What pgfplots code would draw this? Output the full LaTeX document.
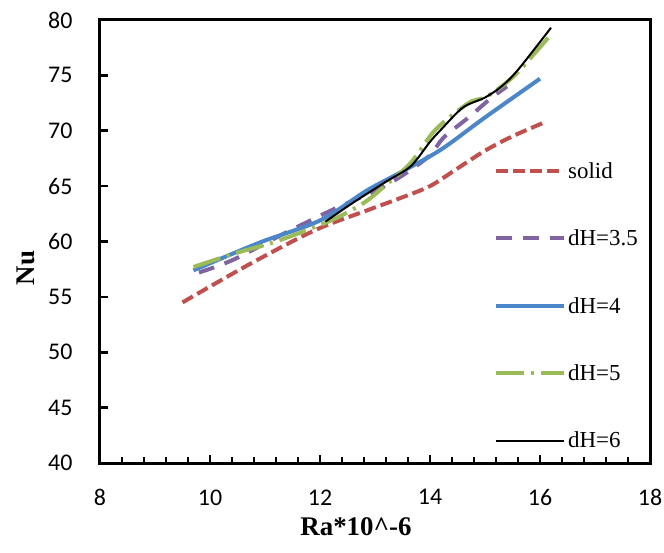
\documentclass[border=0pt]{standalone}
\usepackage{fontspec}
\setmainfont{Liberation Serif}
\newfontfamily\carlito{Carlito}
\usepackage{pgfplots}
\pgfplotsset{compat=1.18}

\definecolor{cSolid}{HTML}{C0504D}
\definecolor{cDHa}{HTML}{8064A2}
\definecolor{cDHb}{HTML}{4A86C8}
\definecolor{cDHc}{HTML}{9BBB59}

\begin{document}
\begin{tikzpicture}
\begin{axis}[
  scale only axis,
  width=550bp, height=443bp,
  xmin=8, xmax=18, ymin=40, ymax=80,
  xtick={8,10,...,18}, ytick={40,45,...,80},
  minor x tick num=4,
  xtick pos=bottom, ytick pos=left,
  tick align=inside,
  major tick length=8bp, minor tick length=6bp,
  major tick style={black, line width=2.5bp},
  minor tick style={black, line width=2bp},
  separate axis lines,
  every outer x axis line/.append style={line width=3bp, line cap=rect},
  every outer y axis line/.append style={line width=3bp, line cap=rect},
  /pgf/number format/assume math mode=true,
  ticklabel style={font=\carlito\fontsize{24}{28}\selectfont},
  xticklabel style={yshift=-23bp},
  yticklabel style={xshift=-24bp},
  xlabel={\textbf{Ra*10\^{}-6}},
  ylabel={\textbf{Nu}},
  label style={font=\fontsize{27}{32}\selectfont},
  xlabel style={at={(axis description cs:0.4655,-0.1445)}, anchor=center},
  ylabel style={at={(axis description cs:-0.1345,0.44)}, anchor=center},
  legend style={draw=none, fill=none, at={(rel axis cs:0.711,0.688)}, anchor=north west,
    font=\fontsize{23}{27}\selectfont, row sep=46bp},
  legend cell align=left,
  legend image code/.code={\draw[#1] (0bp,0bp) -- (68bp,0bp);},
  clip=false,
]
% solid block
\addplot[cSolid, line width=4bp, dash pattern=on 12bp off 5bp, smooth, tension=0.5]
  coordinates {(9.5,54.5) (10.7,57.9) (11.9,61.0) (12.85,62.8) (13.45,63.9) (14.0,65.0) (14.5,66.6) (15.0,68.2) (15.5,69.5) (16.1,70.8)};
\addlegendentry{solid}
% dH = 3.5
\addplot[cDHa, line width=4bp, dash pattern=on 16bp off 11bp, smooth, tension=0.5]
  coordinates {(9.8,57.2) (10.4,58.3) (11.3,60.6) (12.2,62.8) (13.1,64.8) (13.6,66.3) (14.0,67.8) (14.25,69.4) (14.7,71.2) (15.1,72.9) (15.4,74.0)};
\addlegendentry{dH=3.5}
% dH = 4
\addplot[cDHb, line width=4bp, smooth, tension=0.5]
  coordinates {(9.7,57.4) (10.9,59.9) (12.0,61.9) (12.85,64.6) (13.45,66.2) (14.2,68.3) (15.0,71.2) (16.0,74.7)};
\addlegendentry{dH=4}
% dH = 5
\addplot[cDHc, line width=4bp, dash pattern=on 28bp off 7bp on 3bp off 7bp, smooth, tension=0.5]
  coordinates {(9.7,57.7) (10.5,59.0) (11.2,60.0) (12.2,61.9) (12.8,63.5) (13.15,64.9) (13.65,67.1) (14.1,70.1) (14.7,72.5) (15.0,73.0) (15.3,74.0) (15.6,75.3) (16.15,78.4)};
\addlegendentry{dH=5}
% dH = 6
\addplot[black, line width=2bp, smooth, tension=0.5]
  coordinates {(12.1,61.8) (12.6,63.5) (13.2,65.4) (13.65,66.8) (14.0,69.0) (14.2,70.1) (14.6,72.1) (15.0,73.0) (15.3,74.0) (15.6,75.5) (16.2,79.3)};
\addlegendentry{dH=6}
\end{axis}
\pgfresetboundingbox
\useasboundingbox (-100bp,-90bp) rectangle (564bp,463bp);
\end{tikzpicture}
\end{document}
